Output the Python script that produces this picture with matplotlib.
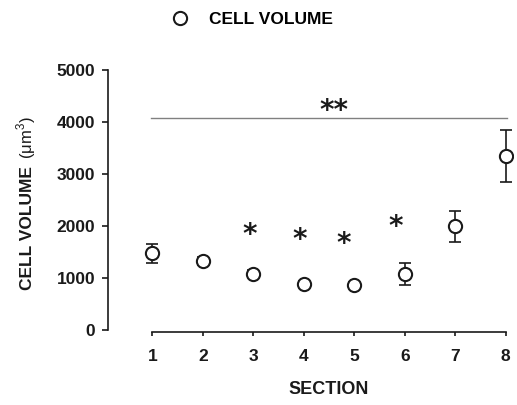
import matplotlib
matplotlib.use("Agg")
import matplotlib.pyplot as plt
import matplotlib.transforms as mtransforms

# cell volume per section (mean +/- error)
sections = [1, 2, 3, 4, 5, 6, 7, 8]
volume = [1472, 1327, 1083, 885, 871, 1073, 1996, 3349]
volume_err = [177, 80, 70, 60, 60, 215, 298, 497]

# significance marks
star_x = [2.92, 3.92, 4.78, 5.82]
star_y = [1890, 1795, 1712, 2038]
bracket_y = 4083
bracket_x = [0.97, 8.03]
double_star_x = 4.6
double_star_y = 4270

plt.rcParams['font.family'] = ['Liberation Sans', 'DejaVu Sans']
plt.rcParams['font.weight'] = 'bold'

ink = '#1a1a1a'
star_size = 20

fig = plt.figure(figsize=(5.17, 4.05), dpi=100)
ax = fig.add_axes([0.2086, 0.18, 0.7844, 0.6536])

ax.errorbar(sections, volume, yerr=volume_err, fmt='none', ecolor=ink,
            elinewidth=1.2, capsize=4, capthick=1.2, zorder=2)
ax.plot(sections, volume, 'o', markersize=9.5, markerfacecolor='white',
        markeredgecolor=ink, markeredgewidth=1.5, linestyle='none',
        zorder=3, label='CELL VOLUME')

# significance bracket and stars (baseline shifted so the glyph sits on y)
ax.plot(bracket_x, [bracket_y, bracket_y], color='#808080', lw=1.0)
star_trans = mtransforms.offset_copy(ax.transData, fig=fig,
                                     y=-0.40 * star_size, units='points')
for sx, sy in zip(star_x, star_y):
    ax.text(sx, sy, '*', ha='center', va='baseline', fontsize=star_size,
            family='DejaVu Sans', fontweight='bold', color=ink,
            transform=star_trans)
ax.text(double_star_x, double_star_y, '**', ha='center', va='baseline',
        fontsize=star_size, family='DejaVu Sans', fontweight='bold',
        color=ink, transform=star_trans)

ax.set_xlim(0.12, 8.15)
ax.set_ylim(-40, 5050)
ax.set_xticks(sections)
ax.set_yticks([0, 1000, 2000, 3000, 4000, 5000])

for side in ['top', 'right']:
    ax.spines[side].set_visible(False)
ax.spines['left'].set_bounds(0, 5000)
ax.spines['bottom'].set_bounds(1, 8)
for side in ['left', 'bottom']:
    ax.spines[side].set_linewidth(1.2)
    ax.spines[side].set_color(ink)

ax.tick_params(axis='y', length=4, width=1.2, pad=5, labelsize=12.5, colors=ink)
ax.tick_params(axis='x', length=3, width=1.2, pad=9, labelsize=12.5, colors=ink)

fig.text(329 / 517, 1 - 390 / 405, 'SECTION', ha='center', va='center',
         fontsize=13, color=ink)
fig.text(27.5 / 517, 1 - 228.5 / 405, 'CELL VOLUME', rotation=90,
         ha='center', va='center', fontsize=12.5, color=ink)
fig.text(26 / 517, 1 - 138 / 405, '(μm$^{\\mathregular{3}}$)', rotation=90,
         ha='center', va='center', fontsize=12, fontweight='normal', color=ink)

fig.legend(loc='center left', bbox_to_anchor=(171 / 517, 1 - 19 / 405),
           frameon=False, handlelength=1.0, handletextpad=1.2,
           borderpad=0, borderaxespad=0, fontsize=12.5)

fig.savefig('out.png', dpi=100)
